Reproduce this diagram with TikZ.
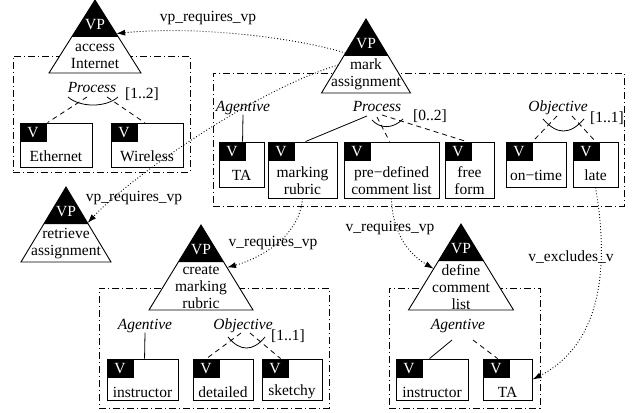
\documentclass[tikz,border=0pt]{standalone}
\usepackage{fontspec}
\setmainfont{Liberation Serif}
\usetikzlibrary{calc,arrows.meta}
\newcommand\mfs{\fontsize{15.5}{17}\selectfont}
\tikzset{
  lbl/.style={font=\mfs, inner sep=0pt, text height=10pt, text depth=3pt},
  ital/.style={lbl, font=\mfs\itshape},
  txt/.style={font=\mfs, inner sep=0pt, align=center},
  fbox/.style={draw, fill=white, line width=0.9pt, inner sep=0pt},
  grp/.style={draw, line width=0.9pt, dash pattern=on 7pt off 3pt on 1pt off 3pt, inner sep=0pt},
  dsh/.style={line width=0.8pt, dash pattern=on 5pt off 4pt},
  sol/.style={line width=0.8pt},
  arcline/.style={line width=0.8pt},
  req/.style={line width=0.9pt, dash pattern=on 0.9pt off 2.1pt, -{Latex[length=9pt,width=6pt]}},
}
% feature box: name, x1, y1, x2, y2, text, text centre y
\newcommand\featbox[7]{%
  \node[fbox, minimum width={(#4-#2)*1pt}, minimum height={(#5-#3)*1pt}] (#1) at ({(#2+#4)/2},{(#3+#5)/2}) {};
  \fill (#1.north west) rectangle ++(27,19);
  \node[lbl, text=white] (#1-v) at ($(#1.north west)+(13.5,11)$) {V};
  \node[txt] (#1-t) at ({(#2+#4)/2},#7) {#6};
}
% group frame: name, x1, y1, x2, y2
\newcommand\grpframe[5]{%
  \node[grp, minimum width={(#4-#2)*1pt}, minimum height={(#5-#3)*1pt}] (#1) at ({(#2+#4)/2},{(#3+#5)/2}) {};
}
% VP triangle: name, apex x, apex y, half width, height, text, text centre y
\newcommand\vptri[7]{%
  \coordinate (#1-a) at (#2,#3);
  \coordinate (#1-l) at ({#2-#4},{#3+#5});
  \coordinate (#1-r) at ({#2+#4},{#3+#5});
  \draw[fill=white, line width=0.9pt] (#1-a) -- (#1-l) -- (#1-r) -- cycle;
  \fill ({#2-#4*37/#5},{#3+37}) -- (#1-a) -- ({#2+#4*37/#5},{#3+37}) -- cycle;
  \node[lbl, text=white] (#1-vp) at (#2,{#3+26}) {VP};
  \node[txt] (#1-t) at (#2,#7) {#6};
}
\begin{document}
\begin{tikzpicture}[x=1pt,y=-1pt]
\useasboundingbox (0,0) rectangle (634,412);

% group frames
\grpframe{g1}{13}{56}{190}{172}
\grpframe{g2}{213}{73}{624}{206}
\grpframe{g3}{99}{288}{329}{408}
\grpframe{g4}{389}{288}{540}{408}

% VP triangles
\vptri{ai}{95}{0}{46}{73}{access\\Internet}{56}
\vptri{ma}{366}{19}{44.5}{74}{mark\\assignment}{74}
\vptri{ra}{66}{187}{45}{75}{retrieve\\assignment}{243.5}
\vptri{cr}{201}{225}{52}{85}{create\\marking\\rubric}{287}
\vptri{dc}{461}{224}{52.5}{86}{define\\comment\\list}{287}

% feature boxes
\featbox{eth}{20}{123}{92}{167}{Ethernet}{156}
\featbox{wir}{111}{123}{183}{167}{Wireless}{156}
\featbox{ta1}{219}{142}{264}{187}{TA}{175}
\featbox{mr}{268}{142}{337}{198}{marking\\rubric}{180.5}
\featbox{pd}{344}{142}{439}{198}{pre−defined\\comment list}{180.5}
\featbox{ff}{445}{142}{494}{198}{free\\form}{180.5}
\featbox{ot}{506}{142}{566}{187}{on−time}{175}
\featbox{lt}{573}{142}{618}{187}{late}{175}
\featbox{in1}{107}{359}{178}{400}{instructor}{392}
\featbox{de}{193}{359}{253}{400}{detailed}{392}
\featbox{sk}{262}{359}{322}{400}{sketchy}{392}
\featbox{in2}{396}{359}{468}{400}{instructor}{392}
\featbox{ta2}{483}{359}{532}{400}{TA}{392}

% decomposition labels
\node[ital] (p1) at (92,89) {Process};
\node[lbl] (c1) at (142,95) {[1..2]};
\node[ital] (ag2) at (243,108) {Agentive};
\node[ital] (p2) at (377,108) {Process};
\node[lbl] (c2) at (430,117) {[0..2]};
\node[ital] (ob2) at (558,108) {Objective};
\node[lbl] (c3) at (607,119) {[1..1]};
\node[ital] (ag3) at (145,326) {Agentive};
\node[ital] (ob3) at (243,326) {Objective};
\node[lbl] (c4) at (288,337) {[1..1]};
\node[ital] (ag4) at (458,326) {Agentive};

% group 1
\draw[dsh] ($(p1)+(-5,8)$) -- ([xshift=28pt]eth.north west);
\draw[dsh] ($(p1)+(15,8)$) -- ([xshift=34pt]wir.north west);
\draw[arcline] ($(p1)+(-24,8)$) .. controls ($(p1)+(-12,18.7)$) and ($(p1)+(14,18.7)$) .. ($(p1)+(26,8)$);

% group 2
\draw[sol] (ag2.south) -- ([xshift=24pt]ta1.north west);
\draw[sol] ($(p2)+(-10,8)$) -- ([xshift=38pt]mr.north west);
\draw[dsh] ($(p2)+(0,9)$) -- ([xshift=46pt]pd.north west);
\draw[dsh] ($(p2)+(5,7)$) -- ([xshift=22pt]ff.north west);
\draw[arcline] ($(p2)+(-5,12)$) .. controls ($(p2)+(3,21)$) and ($(p2)+(16,21)$) .. ($(p2)+(26,11)$);
\draw[dsh] ($(ob2)+(-1,8)$) -- ([xshift=27pt]ot.north west);
\draw[dsh] ($(ob2)+(14,8)$) -- ([xshift=23pt]lt.north west);
\draw[arcline] ($(ob2)+(-15,11)$) .. controls ($(ob2)+(-1,27)$) and ($(ob2)+(12,27)$) .. ($(ob2)+(26,11)$);

% group 3
\draw[sol] (ag3.south) -- ([xshift=38pt]in1.north west);
\draw[dsh] ($(ob3)+(-2,7)$) -- ([xshift=14pt]de.north west);
\draw[dsh] ($(ob3)+(7,7)$) -- ([xshift=19pt]sk.north west);
\draw[arcline] ($(ob3)+(-15,11)$) .. controls ($(ob3)+(-3,25.7)$) and ($(ob3)+(10,25.7)$) .. ($(ob3)+(22,11)$);

% group 4
\draw[sol] ($(ag4)+(-6,14)$) -- ([xshift=34pt]in2.north west);
\draw[dsh] ($(ag4)+(15,14)$) -- ([xshift=15pt]ta2.north west);

% dependency arrows
\draw[req] ($(ma-a)!0.46!(ma-l)$) .. controls (290,36) and (190,26) .. ($(ai-a)!0.46!(ai-r)$);
\draw[req] ($(ma-a)!0.62!(ma-l)$) .. controls (255,90) and (129,178) .. ($(ra-a)!0.48!(ra-r)$);
\draw[req] (mr.south) .. controls (300,235) and (262,258) .. ($(cr-a)!0.5!(cr-r)$);
\draw[req] (pd.south) .. controls (392,228) and (405,252) .. ($(dc-a)!0.52!(dc-l)$);
\draw[req] (lt.south) .. controls (610,270) and (600,345) .. (ta2.east);

% arrow labels
\node[lbl] (l1) at (208,18) {vp\_requires\_vp};
\node[lbl] (l2) at (134,198) {vp\_requires\_vp};
\node[lbl] (l3) at (273,243) {v\_requires\_vp};
\node[lbl] (l4) at (390,228) {v\_requires\_vp};
\node[lbl] (l5) at (571,258) {v\_excludes\_v};
\end{tikzpicture}
\end{document}
